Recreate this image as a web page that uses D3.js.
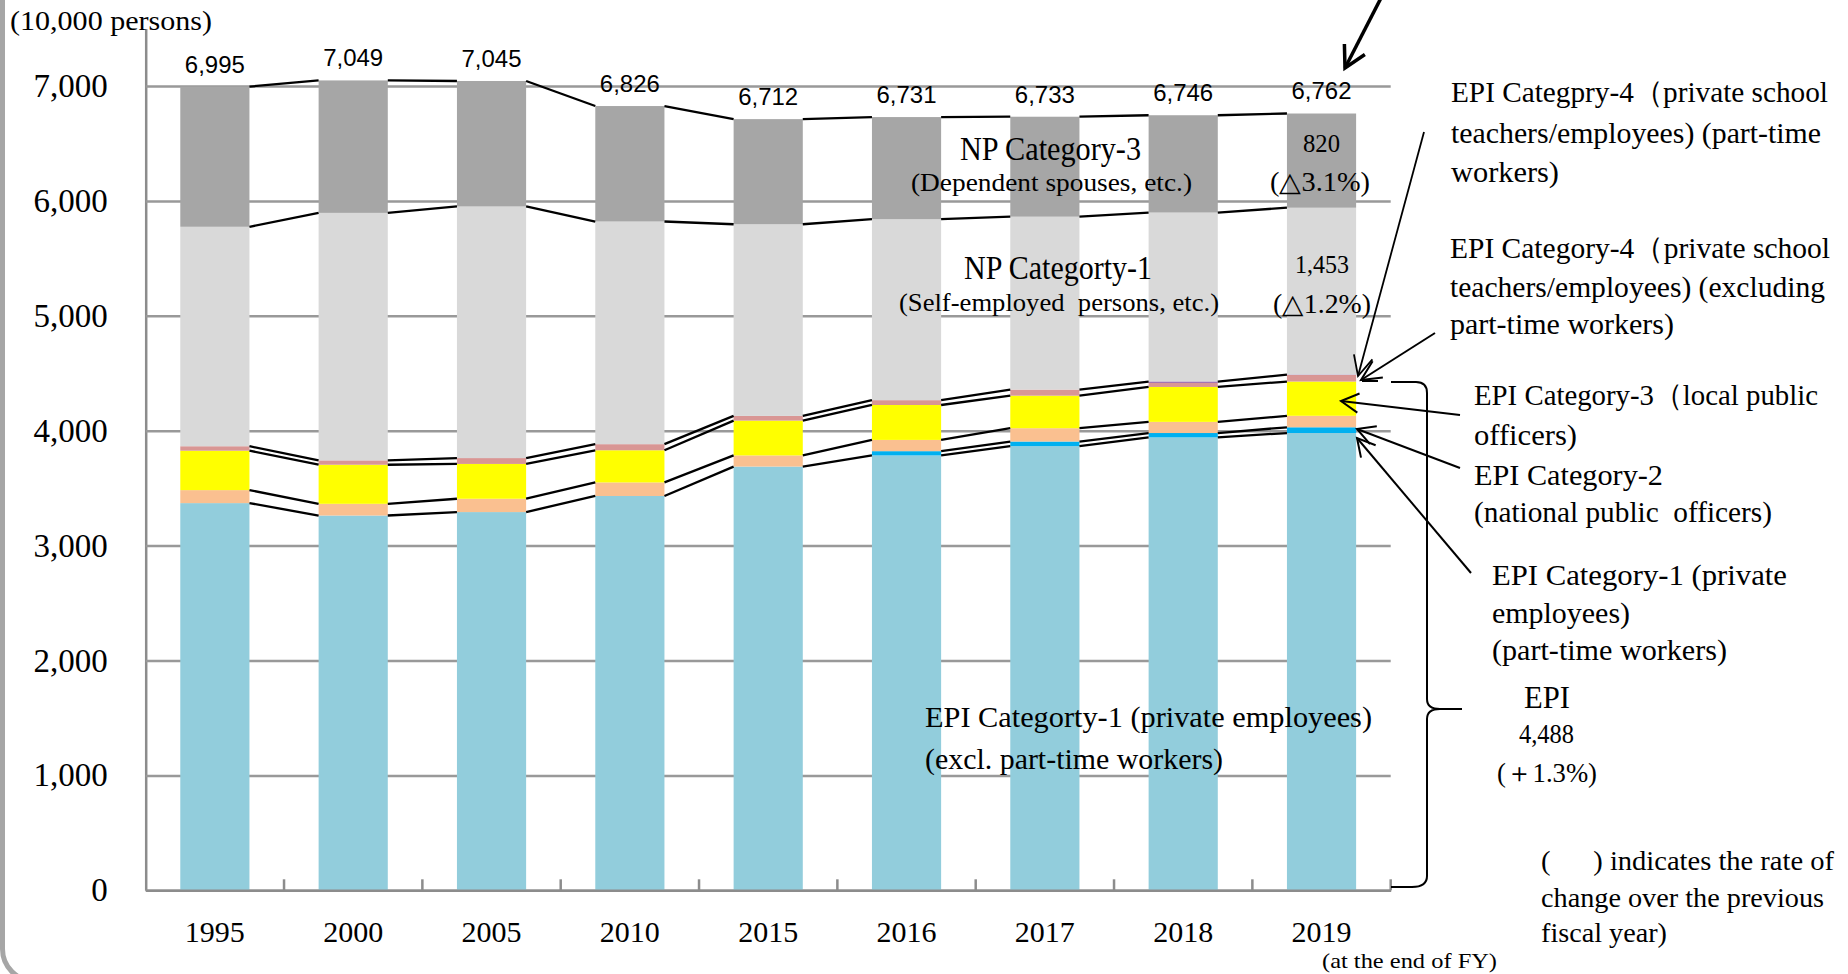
<!DOCTYPE html>
<html>
<head>
<meta charset="utf-8">
<script src="https://cdn.jsdelivr.net/npm/d3@7"></script>
<style>
  body { margin: 0; background: #fff; }
  svg text { font-family: "Liberation Serif", "Times New Roman", serif; fill: #000; }
</style>
</head>
<body>
<svg id="chart" width="1848" height="974"></svg>
<script>
// fiscal years (at the end of FY), 10,000 persons
var years = ["1995", "2000", "2005", "2010", "2015", "2016", "2017", "2018", "2019"];
var totals = [6995, 7049, 7045, 6826, 6712, 6731, 6733, 6746, 6762];

// stacked segments, bottom to top
var epiCat1 = [3370, 3262, 3292, 3432, 3688, 3785, 3866, 3942, 3980];   // private employees (excl. part-time)
var epiCat1Part = [0, 0, 0, 0, 0, 37, 40, 38, 50];                    // private employees (part-time)
var epiCat2 = [113, 102, 116, 118, 97, 98, 116, 97, 100];              // national public officers
var epiCat3 = [343, 340, 303, 280, 303, 304, 283, 304, 298];           // local public officers
var epiCat4 = [39, 38, 51, 53, 41, 42, 53, 38, 57];                    // private school (excl. part-time)
var epiCat4Part = [0, 0, 0, 0, 0, 0, 0, 9, 3];                         // private school (part-time)
var npCat1 = [1910, 2154, 2190, 1938, 1668, 1575, 1505, 1471, 1453];
var npCat3 = [1220, 1153, 1092, 1005, 915, 889, 870, 847, 820];

var yTicks = [0, 1000, 2000, 3000, 4000, 5000, 6000, 7000];

var keys = ["epiCat1", "epiCat1Part", "epiCat2", "epiCat3", "epiCat4", "epiCat4Part", "npCat1", "npCat3"];
var colors = ["#92cddc", "#00b0f0", "#fac090", "#ffff00", "#d99694", "#7030a0", "#d9d9d9", "#a6a6a6"];

var rows = years.map(function(y, i) {
	return {year: y, epiCat1: epiCat1[i], epiCat1Part: epiCat1Part[i], epiCat2: epiCat2[i],
		epiCat3: epiCat3[i], epiCat4: epiCat4[i], epiCat4Part: epiCat4Part[i],
		npCat1: npCat1[i], npCat3: npCat3[i]};
});
var layers = d3.stack().keys(keys)(rows);

var svg = d3.select("#chart");
var plotLeft = 145.7, plotRight = 1390.7, plotBottom = 890.3, plotTop = 28.6;

var x = d3.scaleBand().domain(years).range([plotLeft, plotRight]).paddingInner(0.5).paddingOuter(0.25);
var y = d3.scaleLinear().domain([0, 7500]).range([plotBottom, plotTop]);
var bw = x.bandwidth();

// rounded frame on the left (bottom edge just below the picture)
svg.append("rect")
	.attr("x", 2.5).attr("y", -60).attr("width", 1900).attr("height", 1041)
	.attr("rx", 32).attr("fill", "none").attr("stroke", "#a6a6a6").attr("stroke-width", 5);

// y axis with gridlines
var yAxis = svg.append("g")
	.attr("transform", "translate(" + plotLeft + ",0)")
	.call(d3.axisLeft(y).tickValues(yTicks).tickFormat(d3.format(","))
		.tickSize(-(plotRight - plotLeft)).tickSizeOuter(0).tickPadding(38));
yAxis.selectAll(".tick line").attr("stroke", "#999").attr("stroke-width", 2.5);
yAxis.select(".domain").attr("stroke", "#8c8c8c").attr("stroke-width", 2.5);
yAxis.selectAll("text").attr("font-size", 33)
	.style("font-family", '"Liberation Serif", "Times New Roman", serif');

// bars
layers.forEach(function(layer, li) {
	svg.append("g").attr("fill", colors[li])
		.selectAll("rect")
		.data(layer.filter(function(d) { return d[1] - d[0] > 0; }))
		.enter().append("rect")
		.attr("x", function(d) { return x(d.data.year); })
		.attr("y", function(d) { return y(d[1]); })
		.attr("width", bw)
		.attr("height", function(d) { return y(d[0]) - y(d[1]); });
});

// connector lines between bars
var joinLayers = [0, 1, 2, 3, 5, 6, 7];
var joins = svg.append("g").attr("stroke", "#000").attr("stroke-width", 2.3);
joinLayers.forEach(function(li) {
	for (var i = 0; i < years.length - 1; i++) {
		if (li === 1 && (epiCat1Part[i] === 0 || epiCat1Part[i + 1] === 0)) continue;
		joins.append("line")
			.attr("x1", x(years[i]) + bw).attr("y1", y(layers[li][i][1]))
			.attr("x2", x(years[i + 1])).attr("y2", y(layers[li][i + 1][1]));
	}
});

// x axis
var xAxis = svg.append("g")
	.attr("transform", "translate(0," + plotBottom + ")")
	.call(d3.axisBottom(x).tickSize(0).tickSizeOuter(0).tickPadding(30));
xAxis.select(".domain").attr("stroke", "#8c8c8c").attr("stroke-width", 2.5);
xAxis.selectAll("text").attr("font-size", 30)
	.style("font-family", '"Liberation Serif", "Times New Roman", serif');
// small ticks at category boundaries
svg.append("g").attr("stroke", "#8c8c8c").attr("stroke-width", 2.5)
	.selectAll("line").data(years)
	.enter().append("line")
	.attr("x1", function(d) { return x(d) + x.step() * 0.75; })
	.attr("x2", function(d) { return x(d) + x.step() * 0.75; })
	.attr("y1", plotBottom).attr("y2", plotBottom - 11);

// totals above bars
svg.append("g").selectAll("text").data(years)
	.enter().append("text")
	.attr("x", function(d) { return x(d) + bw / 2 - 30; })
	.attr("y", function(d, i) { return y(totals[i]) - 14; })
	.attr("textLength", 60).attr("lengthAdjust", "spacingAndGlyphs")
	.attr("font-size", 23)
	.style("font-family", '"Liberation Sans", Arial, sans-serif')
	.text(function(d, i) { return d3.format(",")(totals[i]); });

// text notes: [text, x, baseline, font size, width]
var notes = [
	["(10,000 persons)", 10, 30, 28, 202],
	["NP Category-3", 960, 160, 33, 181],
	["(Dependent spouses, etc.)", 911, 191, 26, 281],
	["820", 1303, 152, 25, 37],
	["(\u25B33.1%)", 1270, 191, 27, 100],
	["NP Categorty-1", 964, 279, 34, 188],
	["(Self-employed  persons, etc.)", 899, 311, 26, 320],
	["1,453", 1295, 273, 26, 54],
	["(\u25B31.2%)", 1273, 313, 27, 98],
	["EPI Categorty-1 (private employees)", 925, 727, 30, 447],
	["(excl. part-time workers)", 925, 769, 30, 298],
	["EPI Categpry-4\uFF08private school", 1451, 102, 30, 377],
	["teachers/employees) (part-time", 1451, 143, 30, 370],
	["workers)", 1451, 182, 30, 108],
	["EPI Category-4\uFF08private school", 1450, 258, 30, 380],
	["teachers/employees) (excluding", 1450, 297, 30, 375],
	["part-time workers)", 1450, 334, 30, 224],
	["EPI Category-3\uFF08local public", 1474, 405, 30, 344],
	["officers)", 1474, 445, 30, 103],
	["EPI Category-2", 1474, 485, 30, 189],
	["(national public  officers)", 1474, 522, 30, 298],
	["EPI Category-1 (private", 1492, 585, 30, 295],
	["employees)", 1492, 623, 30, 138],
	["(part-time workers)", 1492, 660, 30, 235],
	["EPI", 1524, 708, 32, 46],
	["4,488", 1519, 743, 27, 55],
	["(\uFF0B1.3%)", 1497, 782, 27, 100],
	["(      ) indicates the rate of", 1541, 870, 27, 293],
	["change over the previous", 1541, 907, 27, 283],
	["fiscal year)", 1541, 942, 27, 126],
	["(at the end of FY)", 1322, 968, 21, 175]
];
svg.append("g").selectAll("text").data(notes)
	.enter().append("text")
	.attr("x", function(d) { return d[1]; })
	.attr("y", function(d) { return d[2]; })
	.attr("font-size", function(d) { return d[3]; })
	.attr("textLength", function(d) { return d[4]; })
	.attr("lengthAdjust", "spacingAndGlyphs")
	.style("white-space", "pre")
	.text(function(d) { return d[0]; });

// arrows
function arrow(x1, y1, x2, y2, w, arm, ang) {
	var a = Math.atan2(y1 - y2, x1 - x2);
	var g = svg.append("g").attr("stroke", "#000").attr("stroke-width", w).attr("fill", "none");
	g.append("line").attr("x1", x1).attr("y1", y1).attr("x2", x2).attr("y2", y2);
	g.append("path").attr("d",
		"M" + (x2 + arm * Math.cos(a + ang)) + "," + (y2 + arm * Math.sin(a + ang)) +
		"L" + x2 + "," + y2 +
		"L" + (x2 + arm * Math.cos(a - ang)) + "," + (y2 + arm * Math.sin(a - ang)));
}
arrow(1381, -2, 1345, 68, 3.5, 24, 0.5);
arrow(1424, 132, 1358, 376, 1.8, 22, 0.45);
arrow(1435, 333, 1361, 380, 2, 22, 0.45);
arrow(1460, 415, 1341, 401, 2, 20, 0.5);
arrow(1460, 468, 1357, 429, 2, 20, 0.5);
arrow(1471, 573, 1357, 438, 2, 20, 0.5);

// brace for EPI total
var brace = svg.append("g").attr("stroke", "#000").attr("stroke-width", 2).attr("fill", "none");
brace.append("line").attr("x1", 1362).attr("y1", 381).attr("x2", 1378).attr("y2", 381);
brace.append("path").attr("d",
	"M1391,382 H1416 Q1427,382 1427,393 V699 Q1427,709 1440,709 H1462" +
	" M1440,709 Q1427,709 1427,719 V876 Q1427,887 1412,887 H1391");
</script>
</body>
</html>
